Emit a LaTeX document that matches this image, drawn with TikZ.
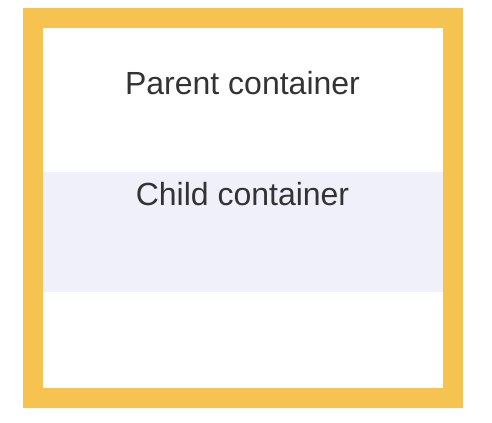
\documentclass[tikz,border=0pt]{standalone}
\usepackage{fontspec}
\setmainfont{Liberation Sans}
\definecolor{frameyellow}{HTML}{F7C350}
\definecolor{childfill}{HTML}{F0F0FB}
\definecolor{labeltext}{HTML}{333333}
\tikzset{
  parentbox/.style={draw=frameyellow, fill=white, line width=15pt, minimum width=315pt, minimum height=285pt, inner sep=0pt, outer sep=0pt},
  childbox/.style={fill=childfill, draw=none, minimum width=300pt, minimum height=90pt, inner sep=0pt, outer sep=0pt},
  boxlabel/.style={text=labeltext, font=\fontsize{24pt}{28pt}\selectfont, anchor=base, inner sep=0pt}
}
\begin{document}
\begin{tikzpicture}[x=0.75pt, y=-0.75pt]
  \useasboundingbox (0,0) rectangle (492,422);
  \node[parentbox] (parent) at (243,208) {};
  \node[childbox] (child) at (243,232) {};
  \node[boxlabel] (parentlabel) at (242.5,94) {Parent container};
  \node[boxlabel] (childlabel) at (242.5,205) {Child container};
\end{tikzpicture}
\end{document}
